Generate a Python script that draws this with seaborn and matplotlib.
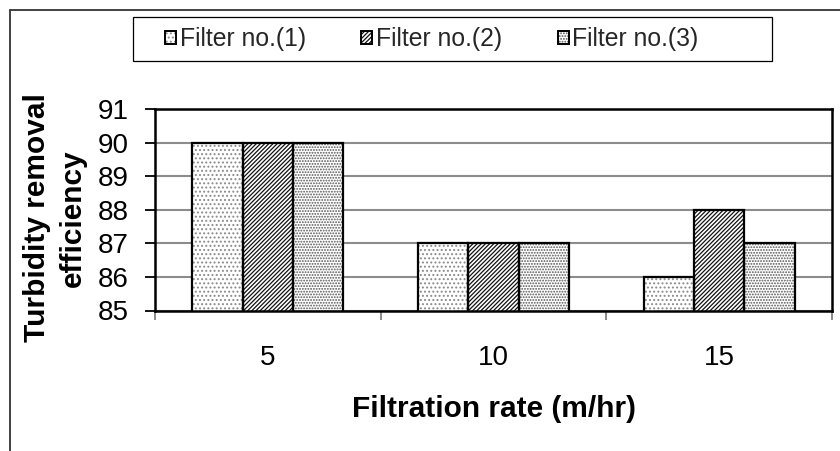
import matplotlib
matplotlib.use("Agg")
import matplotlib.pyplot as plt
from matplotlib.patches import Rectangle, Patch
import seaborn as sns
import pandas as pd

# Turbidity removal efficiency (%) for each filter at each filtration rate
rates = ["5", "10", "15"]
filter_names = ["Filter no.(1)", "Filter no.(2)", "Filter no.(3)"]
filter1 = [90, 87, 86]
filter2 = [90, 87, 88]
filter3 = [90, 87, 87]
y_ticks = [85, 86, 87, 88, 89, 90, 91]

df = pd.DataFrame({
    "rate": rates * 3,
    "filter": [filter_names[0]] * 3 + [filter_names[1]] * 3 + [filter_names[2]] * 3,
    "value": filter1 + filter2 + filter3,
})

sns.set_theme(style="white")
plt.rcParams["font.family"] = ["Liberation Sans", "DejaVu Sans"]
plt.rcParams["hatch.linewidth"] = 0.9

W, H = 840, 451
fig = plt.figure(figsize=(W / 100, H / 100), dpi=100)
fig.patch.set_facecolor("white")

# axes placed in pixel terms
left, right, top, bottom = 155, 832, 109, 310.5
ax = fig.add_axes([left / W, 1 - bottom / H, (right - left) / W, (bottom - top) / H])

sns.barplot(data=df, x="rate", y="value", hue="filter",
            order=rates, hue_order=filter_names, palette=["white"] * 3,
            width=0.67, gap=0, ax=ax, legend=False, errorbar=None)

hatches = ["....", "////////", "......"]
hatch_colors = ["#8a8a8a", "#111111", "#555555"]
for container, hatch, hc in zip(ax.containers, hatches, hatch_colors):
    for bar in container:
        bar.set_hatch(hatch)
        bar.set_edgecolor(hc)
        bar.set_linewidth(0)
        bar.set_zorder(2)
        ax.add_patch(Rectangle((bar.get_x(), bar.get_y()), bar.get_width(), bar.get_height(),
                               fill=False, edgecolor="black", linewidth=1.6, zorder=3))

ax.set_ylim(85, 91)
ax.set_yticks(y_ticks)
ax.set_xlim(-0.5, 2.5)
ax.set_axisbelow(True)
ax.yaxis.grid(True, color="#8c8c8c", linewidth=1.5)
ax.xaxis.grid(False)
for s in ax.spines.values():
    s.set_visible(True)
    s.set_color("black")
    s.set_linewidth(1.8)

ax.set_xlabel("")
ax.set_ylabel("")
ax.tick_params(axis="y", which="major", direction="out", length=7, width=1.3,
               color="black", left=True, pad=12, labelsize=20)
ax.set_xticks([-0.5, 0.5, 1.5, 2.5], minor=True)
ax.tick_params(axis="x", which="major", length=0, pad=25, labelsize=20, bottom=True)
ax.tick_params(axis="x", which="minor", direction="out", length=6.5, width=1.2,
               color="#777777", bottom=True)
for lab in ax.get_xticklabels() + ax.get_yticklabels():
    lab.set_color("black")

# axis titles
fig.text(493.5 / W, 1 - 417 / H, "Filtration rate (m/hr)", ha="center", va="baseline",
         fontsize=21.5, fontweight="bold", color="black")
fig.text(55 / W, 1 - 218 / H, "Turbidity removal\nefficiency", ha="center", va="center",
         rotation=90, fontsize=21.5, fontweight="bold", color="black",
         multialignment="center", linespacing=1.35)

# legend
handles = []
for hatch, hc in zip(hatches, hatch_colors):
    handles.append((Patch(facecolor="white", edgecolor=hc, hatch=hatch, linewidth=0),
                    Patch(fill=False, edgecolor="black", linewidth=1.4)))
fig.legend(handles, filter_names, ncol=3, loc="center left",
           bbox_to_anchor=(165 / W, 1 - 39 / H), frameon=False, borderaxespad=0,
           borderpad=0, fontsize=17.8, handlelength=0.45, handleheight=0.45,
           handletextpad=0.14, columnspacing=2.25)
fig.patches.append(Rectangle((133 / W, 1 - 61 / H), (772 - 133) / W, 44 / H,
                             transform=fig.transFigure, fill=False, edgecolor="black",
                             linewidth=0.9))

# outer frame along the left and top edges
fig.patches.append(Rectangle((9.5 / W, -0.2), 1.5, 1.2 - 9.5 / H,
                             transform=fig.transFigure, fill=False, edgecolor="#333333",
                             linewidth=1.3, clip_on=False))

fig.savefig("out.png", dpi=100)
